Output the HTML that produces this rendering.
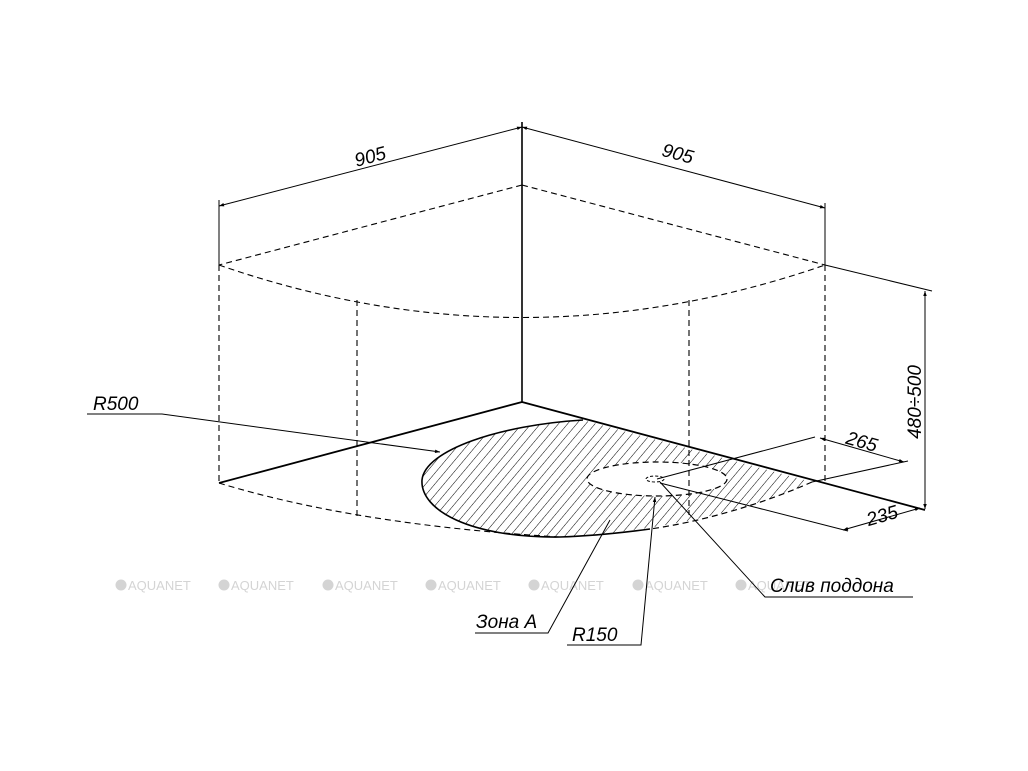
<!DOCTYPE html>
<html><head><meta charset="utf-8"><style>html,body{margin:0;padding:0;background:#fff}svg{display:block}</style></head><body>
<svg width="1028" height="771" viewBox="0 0 1028 771" xmlns="http://www.w3.org/2000/svg" font-family="Liberation Sans, DejaVu Sans, sans-serif">
<defs>
<pattern id="h" width="7" height="7" patternUnits="userSpaceOnUse" patternTransform="rotate(40)">
<line x1="0" y1="0" x2="0" y2="7" stroke="#000" stroke-width="1"/>
</pattern>
<marker id="a" viewBox="0 0 10 10" refX="10" refY="5" markerWidth="9" markerHeight="5" orient="auto-start-reverse" markerUnits="userSpaceOnUse"><path d="M0,1.5 L10,5 L0,8.5Z" fill="#000"/></marker>
</defs>
<g fill="#d4d4d4" font-size="13">
<g><circle cx="121" cy="585" r="5.5"/><text x="128" y="590">AQUANET</text></g>
<g><circle cx="224" cy="585" r="5.5"/><text x="231" y="590">AQUANET</text></g>
<g><circle cx="328" cy="585" r="5.5"/><text x="335" y="590">AQUANET</text></g>
<g><circle cx="431" cy="585" r="5.5"/><text x="438" y="590">AQUANET</text></g>
<g><circle cx="534" cy="585" r="5.5"/><text x="541" y="590">AQUANET</text></g>
<g><circle cx="638" cy="585" r="5.5"/><text x="645" y="590">AQUANET</text></g>
<g><circle cx="741" cy="585" r="5.5"/><text x="748" y="590">AQUANET</text></g>
</g>
<path d="M583,420 L812,482 C760,505 680,530 560,537 C470,538 420,510 422,480 C425,450 500,425 583,420 Z" fill="url(#h)"/>
<ellipse cx="657" cy="479" rx="70" ry="17" fill="#fff" stroke="#000" stroke-width="1.2" stroke-dasharray="6,4"/>
<path d="M812,482 C760,505 700,522 650,529" fill="none" stroke="#000" stroke-width="1.2" stroke-dasharray="6,4"/>
<path d="M650,529 C620,533 590,536 560,537 C470,538 420,510 422,480 C425,450 500,425 583,420" fill="none" stroke="#000" stroke-width="1.6"/>
<ellipse cx="655" cy="479" rx="9" ry="3" fill="#fff" stroke="#000" stroke-width="1" stroke-dasharray="3,2"/>
<g fill="none" stroke="#000">
<line x1="522" y1="122" x2="522" y2="402" stroke-width="1.6"/>
<line x1="522" y1="402" x2="219" y2="483" stroke-width="1.8"/>
<line x1="522" y1="402" x2="925" y2="510" stroke-width="1.8"/>
<g stroke-width="1.1" stroke-dasharray="6,4">
<line x1="522" y1="185" x2="219" y2="265"/>
<line x1="522" y1="185" x2="825" y2="265"/>
<path d="M219,265 Q522,370 825,265"/>
<line x1="219" y1="265" x2="219" y2="483"/>
<line x1="825" y1="265" x2="825" y2="482"/>
<line x1="357" y1="300" x2="357" y2="520"/>
<line x1="689" y1="300" x2="689" y2="515"/>
<path d="M219,483 Q357,525 560,537"/>
</g>
<g stroke-width="1">
<line x1="219" y1="200" x2="219" y2="265"/>
<line x1="825" y1="203" x2="825" y2="265"/>
<line x1="522" y1="127" x2="219" y2="206" marker-start="url(#a)" marker-end="url(#a)"/>
<line x1="522" y1="127" x2="825" y2="208" marker-start="url(#a)" marker-end="url(#a)"/>
<line x1="825" y1="265" x2="932" y2="291"/>
<line x1="925" y1="291" x2="925" y2="509" marker-start="url(#a)" marker-end="url(#a)"/>
<line x1="657" y1="479" x2="815" y2="437"/>
<line x1="812" y1="482" x2="908" y2="461"/>
<line x1="820" y1="438" x2="904" y2="462" marker-start="url(#a)" marker-end="url(#a)"/>
<line x1="660" y1="483" x2="848" y2="531"/>
<line x1="843" y1="530" x2="920" y2="508" marker-start="url(#a)" marker-end="url(#a)"/>
<polyline points="87,414 162,414 440,452" marker-end="url(#a)"/>
<polyline points="475,633 548,633 610,520"/>
<polyline points="567,645 641,645 655,497" marker-end="url(#a)"/>
<polyline points="913,597 765,597 660,482"/>
</g>
</g>
<g font-style="italic" font-size="19" fill="#000">
<text x="370" y="163" transform="rotate(-15 370 156)" text-anchor="middle">905</text>
<text x="678" y="160" transform="rotate(15 678 153)" text-anchor="middle">905</text>
<text x="921" y="402" transform="rotate(-90 921 402)" text-anchor="middle">480÷500</text>
<text x="862" y="448" transform="rotate(16 862 441)" text-anchor="middle">265</text>
<text x="882" y="522" transform="rotate(-16 882 515)" text-anchor="middle">235</text>
<text x="93" y="410">R500</text>
<text x="476" y="628">Зона А</text>
<text x="572" y="641">R150</text>
<text x="770" y="592">Слив поддона</text>
</g>
</svg>
</body></html>
